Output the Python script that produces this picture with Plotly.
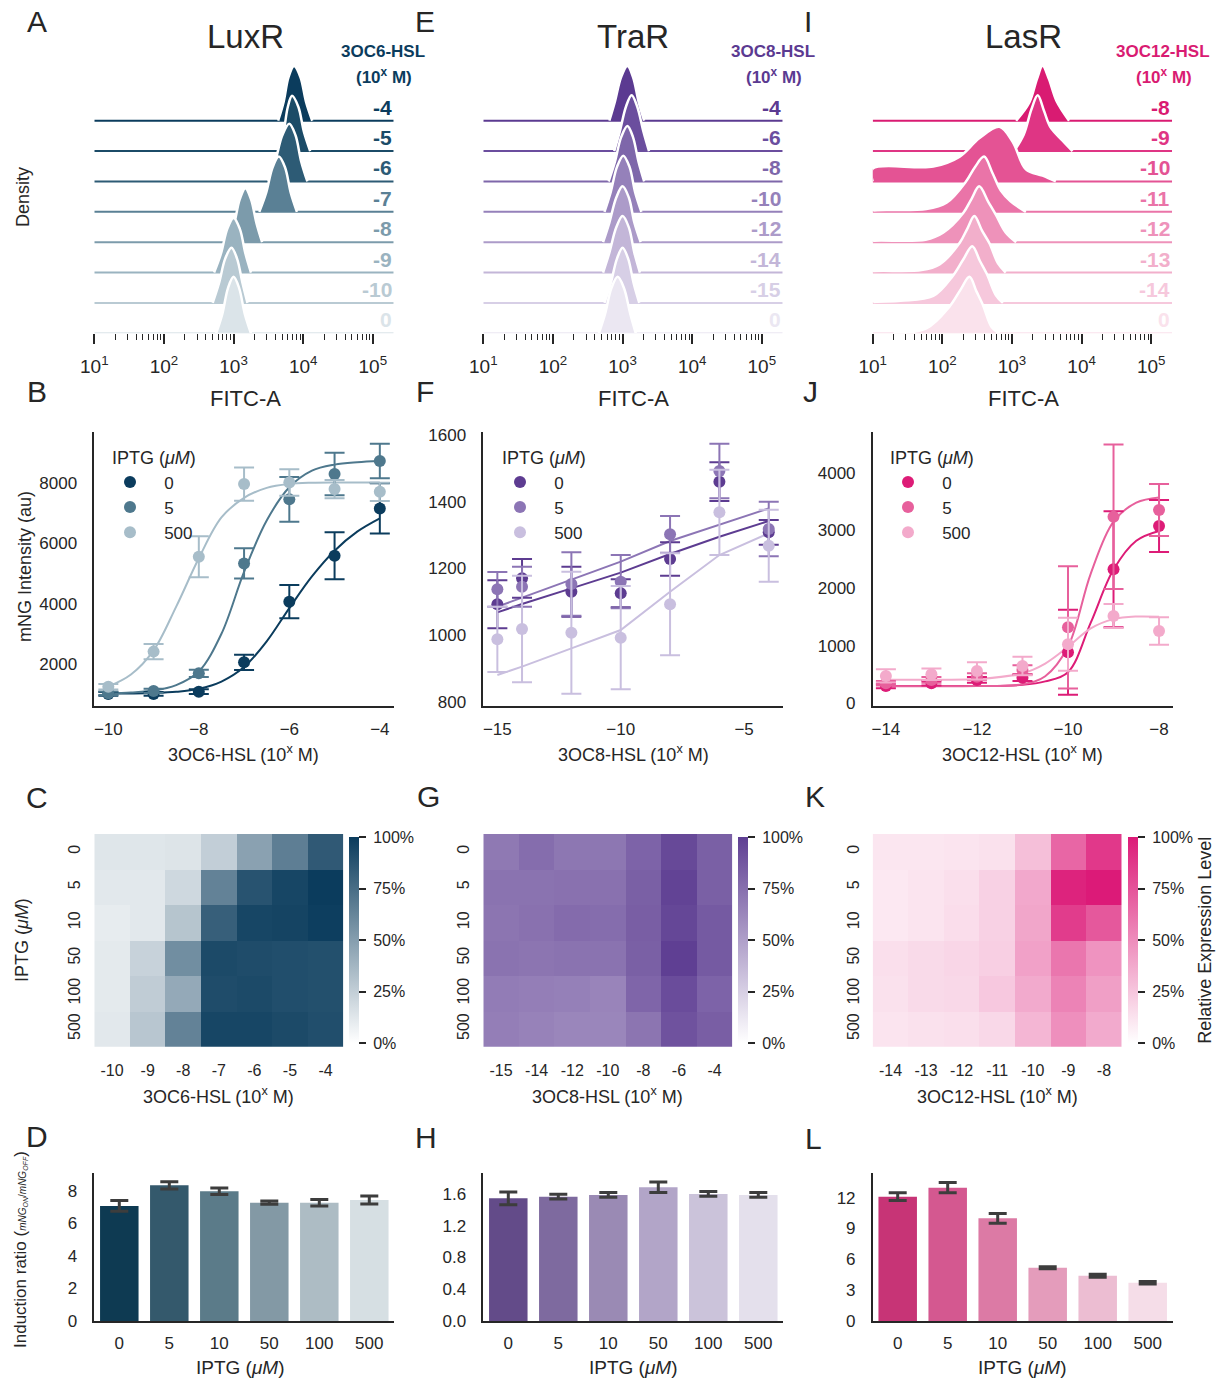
import plotly.graph_objects as go

W, H = 1225, 1379
FONT = "Liberation Sans, Arial, sans-serif"
INK = "#262626"


def fx(px):
    return px / W


def fy(py):
    return 1 - py / H


# ---------------- Ridgeline data: x = log10(FITC-A), h = density (row units) ----------------
FITC_LOG_RANGE = [1.0, 5.3]

lux_labels = ["-4", "-5", "-6", "-7", "-8", "-9", "-10", "0"]
lux_colors = ["#0b3c5d", "#1b4b67", "#2d5b75", "#5a8095", "#7c9bab", "#9ab3c0", "#b9cad3", "#dbe4e9"]
lux_rx = [
    [3.64, 3.72, 3.79, 3.87, 3.96, 4.04, 4.13],
    [3.65, 3.72, 3.78, 3.84, 3.93, 4.01, 4.10],
    [3.50, 3.60, 3.70, 3.80, 3.89, 3.97, 4.06],
    [3.37, 3.47, 3.56, 3.65, 3.74, 3.82, 3.91],
    [2.92, 3.01, 3.09, 3.17, 3.25, 3.33, 3.41],
    [2.72, 2.82, 2.91, 3.00, 3.09, 3.17, 3.25],
    [2.70, 2.79, 2.88, 2.97, 3.05, 3.13, 3.20],
    [2.75, 2.84, 2.92, 3.00, 3.08, 3.16, 3.25],
]
lux_rh = [
    [0, 0.63, 1.44, 1.80, 1.44, 0.63, 0],
    [0, 0.64, 1.46, 1.82, 1.46, 0.64, 0],
    [0, 0.67, 1.52, 1.90, 1.52, 0.67, 0],
    [0, 0.64, 1.46, 1.82, 1.46, 0.64, 0],
    [0, 0.62, 1.42, 1.78, 1.42, 0.62, 0],
    [0, 0.63, 1.44, 1.80, 1.44, 0.63, 0],
    [0, 0.64, 1.46, 1.82, 1.46, 0.64, 0],
    [0, 0.65, 1.49, 1.86, 1.49, 0.65, 0],
]

tra_labels = ["-4", "-6", "-8", "-10", "-12", "-14", "-15", "0"]
tra_colors = ["#5b3a91", "#6b4e9e", "#7e67aa", "#9581ba", "#ac9bc9", "#c3b6d8", "#d7cfe6", "#ebe7f2"]
tra_rx = [
    [2.81, 2.89, 2.98, 3.07, 3.15, 3.23, 3.31],
    [2.88, 2.96, 3.05, 3.13, 3.21, 3.30, 3.38],
    [2.80, 2.89, 2.98, 3.07, 3.15, 3.23, 3.31],
    [2.74, 2.83, 2.92, 3.01, 3.10, 3.18, 3.27],
    [2.72, 2.81, 2.91, 3.00, 3.09, 3.17, 3.26],
    [2.72, 2.81, 2.91, 3.00, 3.09, 3.17, 3.25],
    [2.74, 2.83, 2.92, 3.00, 3.08, 3.16, 3.24],
    [2.66, 2.75, 2.84, 2.93, 3.02, 3.11, 3.19],
]
tra_rh = [
    [0, 0.63, 1.44, 1.80, 1.44, 0.63, 0],
    [0, 0.64, 1.47, 1.84, 1.47, 0.64, 0],
    [0, 0.64, 1.46, 1.83, 1.46, 0.64, 0],
    [0, 0.65, 1.48, 1.85, 1.48, 0.65, 0],
    [0, 0.64, 1.47, 1.84, 1.47, 0.64, 0],
    [0, 0.65, 1.49, 1.86, 1.49, 0.65, 0],
    [0, 0.64, 1.46, 1.82, 1.46, 0.64, 0],
    [0, 0.65, 1.49, 1.86, 1.49, 0.65, 0],
]

las_labels = ["-8", "-9", "-10", "-11", "-12", "-13", "-14", "0"]
las_colors = ["#d91b72", "#df3584", "#e45394", "#ea74a8", "#ee92ba", "#f2afcb", "#f6c8dc", "#fae2ec"]
las_rx = [
    [3.06, 3.25, 3.36, 3.44, 3.53, 3.64, 3.82],
    [3.03, 3.17, 3.28, 3.37, 3.46, 3.55, 3.72, 3.87],
    [1.00, 1.00, 1.87, 2.25, 2.53, 2.82, 3.01, 3.20, 3.44, 3.63],
    [1.00, 1.00, 1.77, 2.06, 2.34, 2.47, 2.60, 2.72, 2.84, 2.98, 3.20],
    [1.00, 1.00, 1.76, 2.01, 2.30, 2.42, 2.53, 2.66, 2.77, 2.91, 3.06],
    [1.00, 1.00, 1.70, 1.96, 2.25, 2.36, 2.46, 2.57, 2.68, 2.80, 2.91],
    [1.00, 1.00, 1.40, 1.87, 2.15, 2.30, 2.43, 2.54, 2.64, 2.77, 2.87],
    [1.30, 1.77, 2.10, 2.26, 2.39, 2.49, 2.58, 2.71, 2.82],
]
las_rh = [
    [0, 0.60, 1.38, 1.81, 1.38, 0.65, 0],
    [0, 0.55, 1.38, 1.84, 1.33, 0.80, 0.36, 0],
    [0, 0.42, 0.49, 0.82, 1.42, 1.80, 1.31, 0.40, 0.19, 0],
    [0, 0.03, 0.09, 0.30, 1.00, 1.48, 1.82, 1.28, 0.70, 0.35, 0],
    [0, 0.03, 0.08, 0.31, 0.96, 1.43, 1.84, 1.33, 0.90, 0.32, 0],
    [0, 0.03, 0.08, 0.27, 0.98, 1.45, 1.86, 1.38, 0.95, 0.30, 0],
    [0, 0.02, 0.07, 0.23, 0.89, 1.43, 1.87, 1.38, 0.95, 0.25, 0],
    [0, 0.16, 0.87, 1.43, 1.86, 1.38, 0.95, 0.20, 0],
]

# ---------------- Dose response data ----------------
IPTG_SERIES = ["0", "5", "500"]

lux_dose = [-10, -9, -8, -7, -6, -5, -4]
lux_mean = {
    "0": [1010, 1010, 1085, 2055, 4063, 5585, 7150],
    "5": [1030, 1107, 1690, 5330, 7450, 8290, 8720],
    "500": [1250, 2410, 5550, 7956, 8010, 7790, 7700],
}
lux_err = {
    "0": [60, 60, 80, 250, 550, 780, 830],
    "5": [60, 70, 120, 500, 740, 700, 570],
    "500": [90, 250, 680, 550, 440, 300, 300],
}
lux_fit_x = [-10, -9.5, -9, -8.5, -8, -7.5, -7, -6.5, -6, -5.5, -5, -4.5, -4]
lux_fit = {
    "0": [1020, 1025, 1040, 1080, 1180, 1420, 1900, 2750, 3850, 4900, 5750, 6380, 6820],
    "5": [1030, 1060, 1120, 1300, 1750, 3000, 5050, 6750, 7850, 8400, 8600, 8680, 8720],
    "500": [1250, 1650, 2450, 3900, 5500, 6850, 7500, 7830, 7960, 8000, 8010, 8010, 8010],
}
lux_series_colors = {"0": "#0b3c5d", "5": "#4e788d", "500": "#a7bdc9"}

tra_dose = [-15, -14, -12, -10, -8, -6, -4]
tra_mean = {
    "0": [1092, 1170, 1130, 1125, 1228, 1460, 1308],
    "5": [1137, 1145, 1153, 1160, 1302, 1492, 1318],
    "500": [987, 1018, 1007, 992, 1092, 1368, 1268],
}
tra_err = {
    "0": [72, 58, 75, 42, 50, 58, 37],
    "5": [52, 60, 95, 80, 55, 82, 82],
    "500": [98, 160, 183, 155, 153, 128, 108],
}
tra_fit_x = [-15, -14, -12, -10, -8, -6, -4]
tra_fit = {
    "0": [1068, 1093, 1140, 1187, 1243, 1295, 1342],
    "5": [1085, 1112, 1166, 1220, 1282, 1332, 1380],
    "500": [880, 905, 960, 1015, 1130, 1240, 1305],
}
tra_series_colors = {"0": "#5d3c91", "5": "#8c75b5", "500": "#c9bfdf"}

las_dose = [-14, -13, -12, -11, -10, -9, -8]
las_mean = {
    "0": [300, 347, 405, 445, 884, 2324, 3075],
    "5": [347, 405, 462, 578, 1318, 3237, 3353],
    "500": [474, 503, 561, 647, 1023, 1514, 1254],
}
las_err = {
    "0": [40, 40, 50, 60, 737, 1006, 450],
    "5": [40, 50, 60, 80, 1060, 1254, 450],
    "500": [115, 100, 150, 160, 460, 210, 240],
}
las_fit_x = [-14, -13, -12, -11, -10.5, -10, -9.5, -9, -8.5, -8]
las_fit = {
    "0": [300, 300, 300, 320, 380, 540, 1400, 2320, 2820, 2990],
    "5": [295, 295, 300, 330, 470, 980, 2250, 3150, 3480, 3570],
    "500": [410, 410, 420, 520, 690, 980, 1300, 1460, 1505, 1500],
}
las_series_colors = {"0": "#dd1c77", "5": "#e7609c", "500": "#f3aacb"}

# ---------------- Heatmap data (relative expression, %) ----------------
IPTG_LEVELS = ["0", "5", "10", "50", "100", "500"]
lux_hm_x = ["-10", "-9", "-8", "-7", "-6", "-5", "-4"]
lux_hm = [
    [13, 13, 14, 25, 48, 66, 85],
    [12, 12, 20, 64, 88, 95, 100],
    [10, 12, 30, 82, 95, 96, 99],
    [11, 23, 58, 93, 92, 91, 90],
    [11, 26, 44, 92, 93, 91, 90],
    [12, 29, 64, 95, 95, 93, 91],
]
tra_hm_x = ["-15", "-14", "-12", "-10", "-8", "-6", "-4"]
tra_hm = [
    [70, 76, 71, 71, 81, 95, 83],
    [73, 73, 74, 74, 83, 98, 83],
    [72, 74, 77, 76, 84, 96, 86],
    [73, 72, 73, 73, 83, 100, 86],
    [68, 67, 66, 64, 80, 93, 81],
    [67, 65, 63, 63, 72, 90, 84],
]
las_hm_x = ["-14", "-13", "-12", "-11", "-10", "-9", "-8"]
las_hm = [
    [11, 11, 12, 13, 28, 67, 87],
    [10, 12, 14, 20, 38, 96, 100],
    [10, 12, 15, 20, 39, 85, 73],
    [14, 16, 18, 21, 41, 60, 47],
    [13, 16, 17, 24, 37, 54, 42],
    [12, 13, 14, 17, 32, 49, 37],
]

# ---------------- Induction ratio data ----------------
lux_ratio = [7.08, 8.35, 7.98, 7.28, 7.28, 7.45]
lux_ratio_err = [0.33, 0.22, 0.20, 0.10, 0.20, 0.25]
lux_bar_colors = ["#0e3a52", "#34596c", "#5b7b89", "#8399a5", "#adbcc4", "#d6dfe3"]
tra_ratio = [1.545, 1.566, 1.587, 1.684, 1.600, 1.587]
tra_ratio_err = [0.08, 0.03, 0.03, 0.065, 0.03, 0.03]
tra_bar_colors = ["#634b89", "#7e6a9f", "#9a8ab4", "#b2a5c8", "#cbc3da", "#e4e0ec"]
las_ratio = [12.1, 12.97, 9.99, 5.19, 4.41, 3.73]
las_ratio_err = [0.37, 0.50, 0.47, 0.10, 0.15, 0.12]
las_bar_colors = ["#c73476", "#d45890", "#dc7aa5", "#e49cbb", "#ecbdd2", "#f5dde8"]

# =====================================================================
fig = go.Figure()
layout = {}
annotations = []


def axname(n):
    return "" if n == 1 else str(n)


def ann(text, x, y, size=18, color=INK, angle=0, xanchor="center", yanchor="middle", bold=False):
    if bold:
        text = "<b>" + text + "</b>"
    annotations.append(dict(text=text, x=fx(x), y=fy(y), xref="paper", yref="paper",
                            showarrow=False, font=dict(size=size, color=color, family=FONT),
                            textangle=angle, xanchor=xanchor, yanchor=yanchor))


# ---------------- Row 1: ridgelines ----------------
major_vals = [10, 100, 1000, 10000, 100000]
major_text = ["10<sup>1</sup>", "10<sup>2</sup>", "10<sup>3</sup>", "10<sup>4</sup>", "10<sup>5</sup>"]
minor_vals = [m * d for d in [10, 100, 1000, 10000, 100000] for m in range(2, 10)]


def add_ridges(n, x0, x1, rx, rh, colors, labels, head, head_x):
    a = axname(n)
    nrow = len(rx)
    for k in range(nrow):
        base = nrow - 1 - k
        col = colors[k]
        fig.add_trace(go.Scatter(
            x=[10 ** FITC_LOG_RANGE[0], 10 ** FITC_LOG_RANGE[1]], y=[base, base],
            mode="lines", line=dict(color=col, width=2), xaxis="x" + a, yaxis="y" + a,
            showlegend=False, hoverinfo="skip"))
        fig.add_trace(go.Scatter(
            x=[10 ** v for v in rx[k]], y=[base + v for v in rh[k]],
            mode="lines", fill="toself", fillcolor=col,
            line=dict(color="white", width=2.5, shape="spline", smoothing=1.0),
            xaxis="x" + a, yaxis="y" + a, showlegend=False, hoverinfo="skip"))
        annotations.append(dict(text="<b>%s</b>" % labels[k], x=1, xref="x%s domain" % a,
                                y=base, yref="y" + a, xanchor="right", yanchor="bottom",
                                showarrow=False, font=dict(size=21, color=col, family=FONT)))
    layout["xaxis" + a] = dict(
        domain=[fx(x0), fx(x1)], type="log", range=FITC_LOG_RANGE, anchor="y" + a,
        showgrid=False, zeroline=False, showline=False,
        tickmode="array", tickvals=major_vals, ticktext=major_text,
        ticks="outside", ticklen=10, tickwidth=1.8, tickcolor=INK,
        tickfont=dict(size=19, color=INK), ticklabelstandoff=6,
        minor=dict(tickmode="array", tickvals=minor_vals, ticks="outside", ticklen=6,
                   tickwidth=1.3, tickcolor=INK, showgrid=False))
    layout["yaxis" + a] = dict(domain=[fy(333.3), fy(60)], range=[0, 9], anchor="x" + a,
                               visible=False)
    ann("<b>%s</b>" % head, head_x, 52, size=17, color=colors[0])
    ann("<b>(10<sup>x</sup> M)</b>", head_x + 1, 76, size=17, color=colors[0])


add_ridges(1, 94.3, 393.7, lux_rx, lux_rh, lux_colors, lux_labels, "3OC6-HSL", 383)
add_ridges(2, 483.3, 782.7, tra_rx, tra_rh, tra_colors, tra_labels, "3OC8-HSL", 773)
add_ridges(3, 872.7, 1172.1, las_rx, las_rh, las_colors, las_labels, "3OC12-HSL", 1163)

# ---------------- Row 2: dose response ----------------


def add_dose(n, x0, x1, xr, yr, xt, yt, dose, mean, err, fit_x, fit, colors, fit_shape, legend_name,
             leg_x):
    a = axname(n)
    for s in IPTG_SERIES:
        fig.add_trace(go.Scatter(x=fit_x, y=fit[s], mode="lines",
                                 line=dict(color=colors[s], width=2, shape=fit_shape),
                                 xaxis="x" + a, yaxis="y" + a, showlegend=False, hoverinfo="skip"))
    for s in IPTG_SERIES:
        fig.add_trace(go.Scatter(x=dose, y=mean[s], mode="markers",
                                 marker=dict(color=colors[s], size=12),
                                 error_y=dict(type="data", array=err[s], color=colors[s],
                                              thickness=2, width=10),
                                 name="\u00a0\u00a0\u00a0" + s, legend=legend_name,
                                 xaxis="x" + a, yaxis="y" + a))
    layout["xaxis" + a] = dict(domain=[fx(x0), fx(x1)], range=xr, anchor="y" + a,
                               showgrid=False, zeroline=False, showline=True, linecolor=INK,
                               linewidth=1.5, ticks="", tickvals=xt,
                               tickfont=dict(size=17, color=INK), ticklabelstandoff=7)
    layout["yaxis" + a] = dict(domain=[fy(706), fy(431.7)], range=yr, anchor="x" + a,
                               showgrid=False, zeroline=False, showline=True, linecolor=INK,
                               linewidth=1.5, ticks="", tickvals=yt,
                               tickfont=dict(size=17, color=INK), ticklabelstandoff=12)
    layout[legend_name] = dict(x=fx(leg_x), y=fy(441), xanchor="left", yanchor="top",
                               bgcolor="rgba(0,0,0,0)",
                               title=dict(text="IPTG (<i>μM</i>)", font=dict(size=18, color=INK)),
                               font=dict(size=17, color=INK), itemsizing="constant",
                               tracegroupgap=0)


add_dose(4, 94.3, 394.3, [-10.31, -3.68], [610, 9690], [-10, -8, -6, -4],
         [2000, 4000, 6000, 8000], lux_dose, lux_mean, lux_err, lux_fit_x, lux_fit,
         lux_series_colors, "spline", "legend", 110)
add_dose(5, 483.3, 783.3, [-15.57, -3.41], [787, 1610], [-15, -10, -5],
         [800, 1000, 1200, 1400, 1600], tra_dose, tra_mean, tra_err, tra_fit_x, tra_fit,
         tra_series_colors, "linear", "legend2", 500)
add_dose(6, 872.7, 1172.7, [-14.29, -7.7], [-47, 4711], [-14, -12, -10, -8],
         [0, 1000, 2000, 3000, 4000], las_dose, las_mean, las_err, las_fit_x, las_fit,
         las_series_colors, "spline", "legend3", 888)

# ---------------- Row 3: heatmaps ----------------


def add_heat(n, x0, x1, xcats, z, dark, cb_x, cb_title=None):
    a = axname(n)
    cb = dict(x=fx(cb_x), xanchor="left", y=fy(940.2), yanchor="middle", len=206,
              lenmode="pixels", thickness=10, thicknessmode="pixels", xpad=0, ypad=0,
              outlinewidth=0, tickmode="array", tickvals=[0, 25, 50, 75, 100],
              ticktext=[" 0%", " 25%", " 50%", " 75%", " 100%"], ticks="outside", ticklen=7,
              tickwidth=1.5, tickcolor=INK, tickfont=dict(size=16, color=INK, family=FONT))
    if cb_title:
        cb["title"] = dict(text=cb_title, side="right", font=dict(size=18, color=INK, family=FONT))
    fig.add_trace(go.Heatmap(x=xcats, y=IPTG_LEVELS, z=z, zmin=0, zmax=100,
                             colorscale=[[0, "#ffffff"], [1, dark]], colorbar=cb,
                             xaxis="x" + a, yaxis="y" + a, hoverinfo="skip", xgap=0, ygap=0))
    layout["xaxis" + a] = dict(domain=[fx(x0), fx(x1)], anchor="y" + a, showgrid=False,
                               zeroline=False, showline=False, ticks="", type="category",
                               tickfont=dict(size=16, color=INK), ticklabelstandoff=12)
    layout["yaxis" + a] = dict(domain=[fy(1046.7), fy(834)], anchor="x" + a, showgrid=False,
                               zeroline=False, showline=False, ticks="", type="category",
                               autorange="reversed", tickangle=-90,
                               tickfont=dict(size=16, color=INK), ticklabelstandoff=10)


add_heat(7, 94.3, 343.3, lux_hm_x, lux_hm, "#0b3c5d", 349.3)
add_heat(8, 483.3, 732.3, tra_hm_x, tra_hm, "#5f3f93", 737.7)
add_heat(9, 872.7, 1121.7, las_hm_x, las_hm, "#dc1a78", 1127.7, "Relative Expression Level")

# ---------------- Row 4: induction ratio bars ----------------


def add_bars(n, x0, x1, vals, errs, colors, yr, yt, fmt=None):
    a = axname(n)
    fig.add_trace(go.Bar(x=IPTG_LEVELS, y=vals, marker=dict(color=colors, line=dict(width=0)),
                         error_y=dict(type="data", array=errs, color="#3d3d3d", thickness=3,
                                      width=9),
                         xaxis="x" + a, yaxis="y" + a, showlegend=False, hoverinfo="skip"))
    layout["xaxis" + a] = dict(domain=[fx(x0), fx(x1)], anchor="y" + a, type="category",
                               range=[-0.5, 5.5], showgrid=False, zeroline=False, showline=True,
                               linecolor=INK, linewidth=1.5, ticks="",
                               tickfont=dict(size=17, color=INK), ticklabelstandoff=6)
    ya = dict(domain=[fy(1321), fy(1173.3)], anchor="x" + a, range=yr, showgrid=False,
              zeroline=False, showline=True, linecolor=INK, linewidth=1.5, ticks="",
              tickvals=yt, tickfont=dict(size=17, color=INK), ticklabelstandoff=12)
    if fmt:
        ya["tickformat"] = fmt
    layout["yaxis" + a] = ya


add_bars(10, 94.3, 394.3, lux_ratio, lux_ratio_err, lux_bar_colors, [0, 9.09], [0, 2, 4, 6, 8])
add_bars(11, 483.3, 783.3, tra_ratio, tra_ratio_err, tra_bar_colors, [0, 1.86],
         [0, 0.4, 0.8, 1.2, 1.6], ".1f")
add_bars(12, 872.7, 1172.7, las_ratio, las_ratio_err, las_bar_colors, [0, 14.37],
         [0, 3, 6, 9, 12])

# ---------------- Text: panel letters, titles, axis titles ----------------
for letter, x, y in [("A", 37, 21), ("B", 37, 391), ("C", 37, 797), ("D", 37, 1136),
                     ("E", 425, 21), ("F", 425, 391), ("G", 428, 796), ("H", 426, 1137),
                     ("I", 808, 21), ("J", 811, 392), ("K", 815, 796), ("L", 813, 1138)]:
    ann(letter, x, y, size=30)

for title, x in [("LuxR", 245), ("TraR", 633), ("LasR", 1023)]:
    ann(title, x, 37, size=33)

ann("Density", 23, 197, size=18, angle=-90)
for x in [245, 633, 1023]:
    ann("FITC-A", x, 398, size=22)

ann("mNG Intensity (au)", 25, 567, size=18, angle=-90)
for name, x in [("3OC6", 243), ("3OC8", 633), ("3OC12", 1022)]:
    ann(name + "-HSL (10<sup>x</sup> M)", x, 753, size=18)

ann("IPTG (<i>μM</i>)", 22, 940, size=18, angle=-90)
for name, x in [("3OC6", 218), ("3OC8", 607), ("3OC12", 997)]:
    ann(name + "-HSL (10<sup>x</sup> M)", x, 1095, size=18)

ann("Induction ratio (<span style='font-size:10px'><i>mNG<sub>ON</sub></i>/"
    "<i>mNG<sub>OFF</sub></i></span>)", 20, 1250, size=17, angle=-90)
for x in [240, 633, 1022]:
    ann("IPTG (<i>μM</i>)", x, 1367, size=19)

layout.update(dict(
    width=W, height=H,
    margin=dict(l=0, r=0, t=0, b=0, autoexpand=False),
    paper_bgcolor="white", plot_bgcolor="rgba(0,0,0,0)",
    font=dict(family=FONT, color=INK, size=17),
    showlegend=True, bargap=0.23,
    annotations=annotations,
))
fig.update_layout(**layout)
fig.write_html("out.html", config={"displayModeBar": False},
               post_script="document.body.style.margin='0';document.body.style.padding='0';")
